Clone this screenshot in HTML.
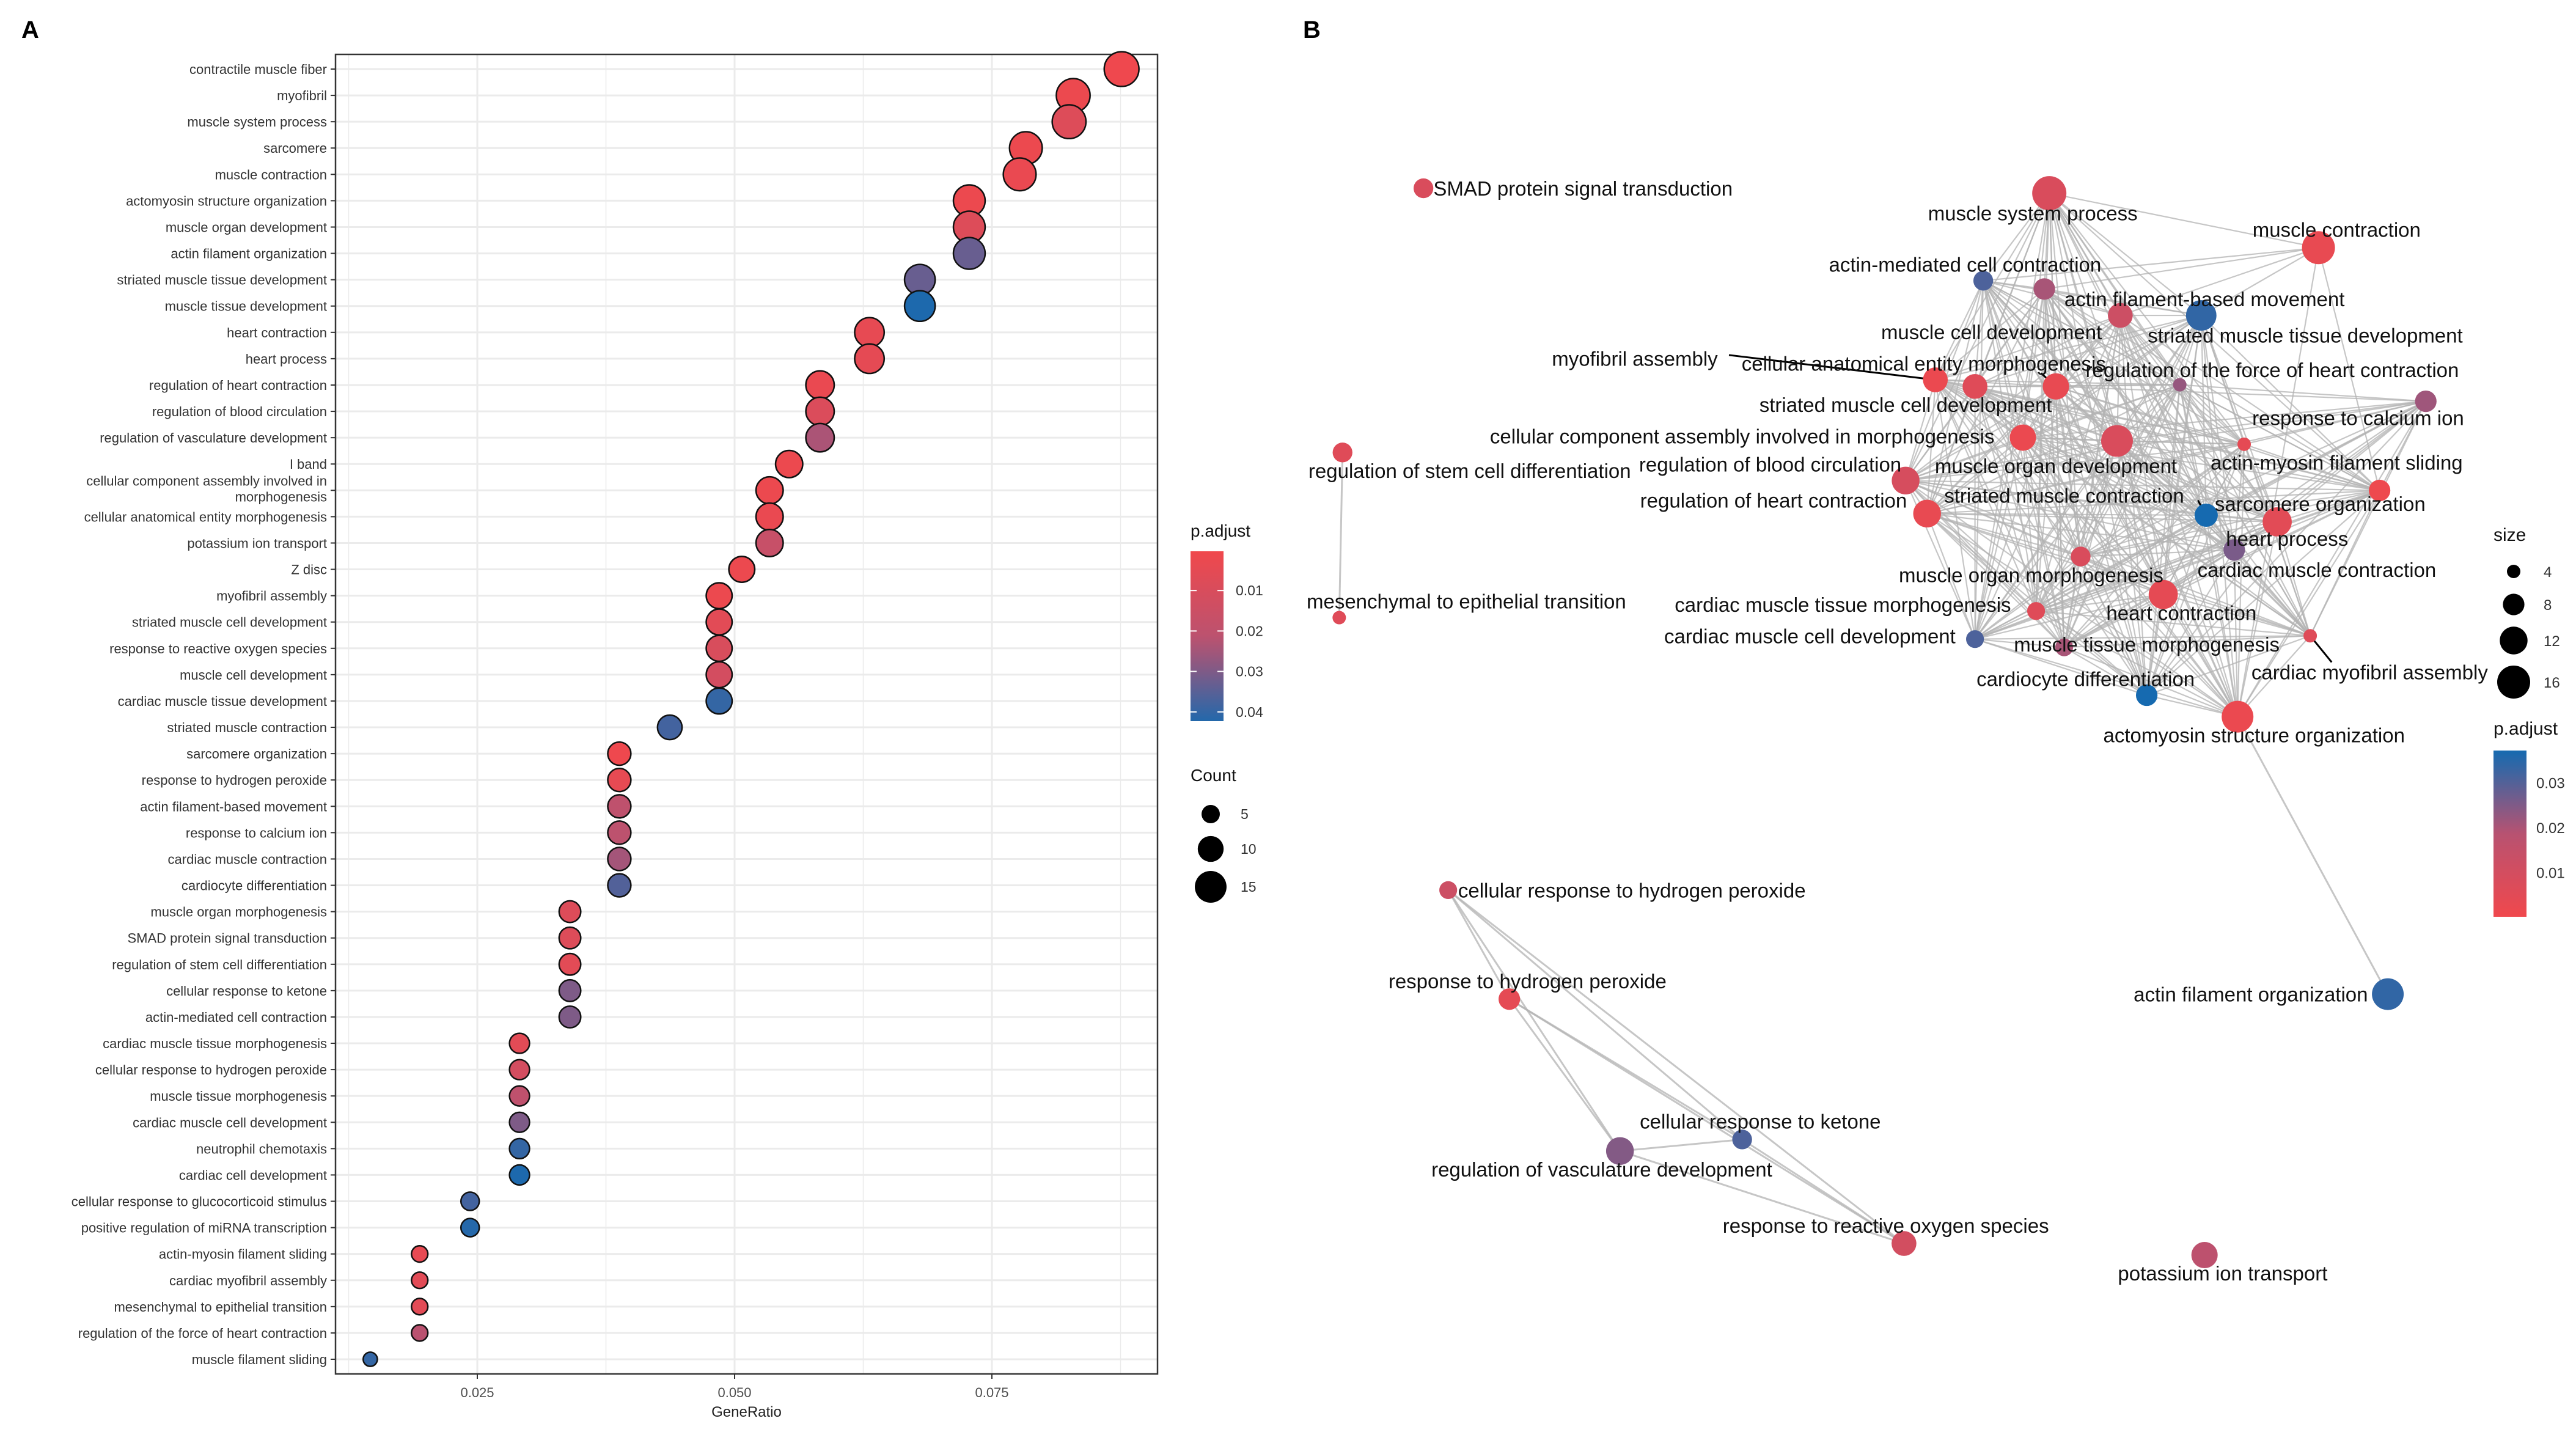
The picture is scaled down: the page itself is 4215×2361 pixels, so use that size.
<!DOCTYPE html>
<html><head><meta charset="utf-8"><style>
html,body{margin:0;padding:0;background:#fff}
svg{display:block;font-family:"Liberation Sans",Arial,sans-serif}
</style></head><body>
<svg id="fig" width="4215" height="2361" viewBox="0 0 4215 2361" xmlns="http://www.w3.org/2000/svg">
<rect x="0" y="0" width="4215" height="2361" fill="#fff"/>
<text x="35" y="62" font-size="40" font-weight="bold">A</text>
<text x="2132" y="62" font-size="40" font-weight="bold">B</text>
<g id="pa"></g>
<g id="pb"></g>
</svg>
<script>
const categories=["contractile muscle fiber","myofibril","muscle system process","sarcomere","muscle contraction","actomyosin structure organization","muscle organ development","actin filament organization","striated muscle tissue development","muscle tissue development","heart contraction","heart process","regulation of heart contraction","regulation of blood circulation","regulation of vasculature development","I band","cellular component assembly involved in morphogenesis","cellular anatomical entity morphogenesis","potassium ion transport","Z disc","myofibril assembly","striated muscle cell development","response to reactive oxygen species","muscle cell development","cardiac muscle tissue development","striated muscle contraction","sarcomere organization","response to hydrogen peroxide","actin filament-based movement","response to calcium ion","cardiac muscle contraction","cardiocyte differentiation","muscle organ morphogenesis","SMAD protein signal transduction","regulation of stem cell differentiation","cellular response to ketone","actin-mediated cell contraction","cardiac muscle tissue morphogenesis","cellular response to hydrogen peroxide","muscle tissue morphogenesis","cardiac muscle cell development","neutrophil chemotaxis","cardiac cell development","cellular response to glucocorticoid stimulus","positive regulation of miRNA transcription","actin-myosin filament sliding","cardiac myofibril assembly","mesenchymal to epithelial transition","regulation of the force of heart contraction","muscle filament sliding"];
const geneRatio=[0.0876,0.0829,0.0825,0.0783,0.0777,0.0728,0.0728,0.0728,0.068,0.068,0.0631,0.0631,0.0583,0.0583,0.0583,0.0553,0.0534,0.0534,0.0534,0.0507,0.0485,0.0485,0.0485,0.0485,0.0485,0.0437,0.0388,0.0388,0.0388,0.0388,0.0388,0.0388,0.034,0.034,0.034,0.034,0.034,0.0291,0.0291,0.0291,0.0291,0.0291,0.0291,0.0243,0.0243,0.0194,0.0194,0.0194,0.0194,0.0146];
const counts=[18,17,17,16,16,15,15,15,14,14,13,13,12,12,12,11,11,11,11,10,10,10,10,10,10,9,8,8,8,8,8,8,7,7,7,7,7,6,6,6,6,6,6,5,5,4,4,4,4,3];
const pAdjust=[0.001,0.002,0.008,0.002,0.003,0.002,0.008,0.033,0.033,0.043,0.004,0.005,0.003,0.009,0.024,0.002,0.002,0.003,0.017,0.002,0.002,0.006,0.010,0.012,0.040,0.038,0.001,0.004,0.020,0.021,0.025,0.036,0.008,0.008,0.006,0.030,0.030,0.006,0.012,0.020,0.030,0.040,0.043,0.038,0.042,0.004,0.006,0.006,0.022,0.040];
const xTicks=[0.025,0.05,0.075];
const xTickLabels=["0.025","0.050","0.075"];

const NS="http://www.w3.org/2000/svg";
function mk(tag,attrs,parent,txt){const e=document.createElementNS(NS,tag);for(const k in attrs)e.setAttribute(k,attrs[k]);if(txt!==undefined)e.textContent=txt;parent.appendChild(e);return e;}
function colS(p,pmax){const t=Math.max(0,Math.min(1,p/pmax));
 const a=[241,72,76],m=[186,82,112],b=[22,106,176];let c;
 if(t<0.5){const u=t/0.5;c=a.map((v,i)=>v+(m[i]-v)*u);}else{const u=(t-0.5)/0.5;c=m.map((v,i)=>v+(b[i]-v)*u);}
 return "rgb("+c.map(Math.round).join(",")+")";}
const col=p=>colS(p,0.044);
const colB=p=>colS(p,0.036);

// Panel A
const pa=document.getElementById('pa');
const L=549,R=1894,T=89,B=2248;
const xs=v=>781+(v-0.025)*(1202-781)/0.025;
const ys=i=>113+i*(2224-113)/(categories.length-1);
const rA=k=>6.7*Math.sqrt(k);
for(let v=0.0125;v<0.091;v+=0.0125){const g=mk('line',{x1:xs(v),x2:xs(v),y1:T,y2:B,stroke:'#ebebeb','stroke-width':Math.abs((v/0.025)-Math.round(v/0.025))<1e-6?3:1.5},pa);}
categories.forEach((c,i)=>{const y=ys(i);
 const g=mk('line',{x1:L,x2:R,y1:y,y2:y,stroke:'#ebebeb','stroke-width':3},pa);
 mk('line',{x1:L-8,x2:L,y1:y,y2:y,stroke:'#333','stroke-width':2},pa);
 if(c==="cellular component assembly involved in morphogenesis"){
  const t=mk('text',{x:L-14,y:y-8,'font-size':22,'text-anchor':'end',fill:'#333'},pa,"cellular component assembly involved in");
  
  const t2=mk('text',{x:L-14,y:y+18,'font-size':22,'text-anchor':'end',fill:'#333'},pa,"morphogenesis");
  
 } else {
  const t=mk('text',{x:L-14,y:y+8,'font-size':22,'text-anchor':'end',fill:'#333'},pa,c);
  
 }});
const fr=mk('rect',{x:L,y:T,width:R-L,height:B-T,fill:'none',stroke:'#333','stroke-width':2.5},pa);

xTicks.forEach((v,i)=>{mk('line',{x1:xs(v),x2:xs(v),y1:B,y2:B+8,stroke:'#333','stroke-width':2},pa);
 const t=mk('text',{x:xs(v),y:B+38,'font-size':22,'text-anchor':'middle',fill:'#4d4d4d'},pa,xTickLabels[i]);
 });
const xt=mk('text',{x:(L+R)/2,y:B+70,'font-size':24,'text-anchor':'middle',fill:'#222'},pa,"GeneRatio");

categories.forEach((c,i)=>{const d=mk('circle',{cx:xs(geneRatio[i]),cy:ys(i),r:rA(counts[i]),fill:col(pAdjust[i]),stroke:'#111','stroke-width':2.5},pa);
 });
(function(){const lg=mk('g',{},pa);
 mk('text',{x:1948,y:878,'font-size':28,fill:'#111'},lg,"p.adjust");
 const gr=mk('linearGradient',{id:'ga',x1:0,y1:0,x2:0,y2:1},mk('defs',{},lg));
 for(let s=0;s<=10;s++){mk('stop',{offset:s/10,'stop-color':col(0.0003+s/10*0.042)},gr);}
 mk('rect',{x:1948,y:902,width:54,height:278,fill:'url(#ga)'},lg);
 [0.01,0.02,0.03,0.04].forEach((v,i)=>{const y=902+(v-0.0003)/0.042*278;
  mk('line',{x1:1948,x2:1958,y1:y,y2:y,stroke:'#fff','stroke-width':2},lg);mk('line',{x1:1992,x2:2002,y1:y,y2:y,stroke:'#fff','stroke-width':2},lg);
  mk('text',{x:2022,y:y+8,'font-size':23,fill:'#333'},lg,["0.01","0.02","0.03","0.04"][i]);});
 const lc=mk('g',{},pa);
 mk('text',{x:1948,y:1278,'font-size':28,fill:'#111'},lc,"Count");
 [[5,1332],[10,1389],[15,1451]].forEach(a=>{mk('circle',{cx:1981,cy:a[1],r:rA(a[0]),fill:'#000'},lc);mk('text',{x:2030,y:a[1]+8,'font-size':23,fill:'#333'},lc,String(a[0]));});
})();

// Panel B network
const S=2.702;
const pb=document.getElementById('pb');
const pOf={};categories.forEach((c,i)=>pOf[c]=[pAdjust[i],counts[i]]);
const nodes=[
["muscle system process",1241,117,1231,129],["muscle contraction",1404,150,1415,139],["actin-mediated cell contraction",1201,170,1190,160],
["actin filament-based movement",1238,175,1335,181],["muscle cell development",1284,191,1206,201],["striated muscle tissue development",1333,191,1396,203],
["myofibril assembly",1172,230,990,217],["striated muscle cell development",1196,234,1154,245],["cellular anatomical entity morphogenesis",1245,234,1165,220],
["regulation of the force of heart contraction",1320,233,1376,224],["response to calcium ion",1469,243,1428,253],["cellular component assembly involved in morphogenesis",1225,265,1055,264],
["muscle organ development",1282,267,1245,282],["actin-myosin filament sliding",1359,269,1415,280],["regulation of blood circulation",1154,291,1072,281],
["sarcomere organization",1441,297,1405,305],["heart process",1379,316,1385,326],["striated muscle contraction",1336,312,1250,300],
["regulation of heart contraction",1167,311,1074,303],["cardiac muscle contraction",1353,333,1403,345],["muscle organ morphogenesis",1260,337,1230,348],
["heart contraction",1310,360,1321,371],["cardiac muscle tissue morphogenesis",1233,370,1116,366],["cardiac muscle cell development",1196,387,1096,385],
["muscle tissue morphogenesis",1250,392,1300,390],["cardiac myofibril assembly",1399,385,1435,407],["cardiocyte differentiation",1300,421,1263,411],
["actomyosin structure organization",1355,434,1365,445]];
const others=[["SMAD protein signal transduction",862,114,966,114],["regulation of stem cell differentiation",813,274,890,285],["mesenchymal to epithelial transition",811,374,888,364],
["actin filament organization",1446,602,1363,602],["cellular response to hydrogen peroxide",877,539,996,539],["response to hydrogen peroxide",914,605,925,594],
["cellular response to ketone",1055,690,1066,679],["regulation of vasculature development",981,697,970,708],["response to reactive oxygen species",1153,753,1142,742],
["potassium ion transport",1335,760,1346,771]];
const all=nodes.concat(others);const pos={};all.forEach(n=>pos[n[0]]=[n[1]*S,n[2]*S]);
const eg=mk('g',{},pb);
function edge(a,b,w){mk('line',{x1:pos[a][0],y1:pos[a][1],x2:pos[b][0],y2:pos[b][1],stroke:'#b3b3b3','stroke-width':w||3,'stroke-opacity':0.75},eg);}
for(let i=0;i<nodes.length;i++)for(let j=i+1;j<nodes.length;j++){if(i===1&&j>4&&j!==5&&j!==15&&j!==27)continue;if(j===10&&i<8)continue;edge(nodes[i][0],nodes[j][0],2.2);}
edge("actin filament organization","actomyosin structure organization");
edge("regulation of stem cell differentiation","mesenchymal to epithelial transition");
const sm=["cellular response to hydrogen peroxide","response to hydrogen peroxide","cellular response to ketone","regulation of vasculature development","response to reactive oxygen species"];
for(let i=0;i<sm.length;i++)for(let j=i+1;j<sm.length;j++)edge(sm[i],sm[j]);
[["myofibril assembly",1047,215],["cellular anatomical entity morphogenesis",1236,226],["striated muscle contraction",1331,303]].forEach(a=>mk('line',{x1:a[1]*S,y1:a[2]*S,x2:pos[a[0]][0],y2:pos[a[0]][1],stroke:'#000','stroke-width':3},pb));
mk('line',{x1:1399*S,y1:385*S,x2:1412*S,y2:401*S,stroke:'#000','stroke-width':3},pb);
const rB=k=>8*Math.sqrt(k)-5;
all.forEach(n=>{const pc=pOf[n[0]];const c=mk('circle',{cx:pos[n[0]][0],cy:pos[n[0]][1],r:rB(pc[1]),fill:colB(pc[0])},pb);
 });
all.forEach(n=>{const left=n[0]==="SMAD protein signal transduction"||n[0]==="cellular response to hydrogen peroxide";
 const t=mk('text',{x:left?(n[1]+6)*S:n[3]*S,y:n[4]*S+12,'font-size':33,'text-anchor':left?'start':'middle',fill:'#111'},pb,n[0]);
 });
(function(){const lg=mk('g',{},pb);
 mk('text',{x:4080,y:885,'font-size':30,fill:'#111'},lg,"size");
 [[4,935],[8,989],[12,1048],[16,1116]].forEach(a=>{mk('circle',{cx:4113,cy:a[1],r:rB(a[0]),fill:'#000'},lg);mk('text',{x:4162,y:a[1]+9,'font-size':24,fill:'#333'},lg,String(a[0]));});
 const lp=mk('g',{},pb);
 mk('text',{x:4080,y:1202,'font-size':30,fill:'#111'},lp,"p.adjust");
 const gr=mk('linearGradient',{id:'gb',x1:0,y1:1,x2:0,y2:0},mk('defs',{},lp));
 for(let s=0;s<=10;s++){mk('stop',{offset:s/10,'stop-color':colB(0.0003+s/10*0.036)},gr);}
 mk('rect',{x:4080,y:1228,width:54,height:272,fill:'url(#gb)'},lp);
 [0.01,0.02,0.03].forEach((v,i)=>{const y=1500-(v-0.0003)/0.037*272;
  mk('text',{x:4150,y:y+8,'font-size':24,fill:'#333'},lp,["0.01","0.02","0.03"][i]);});
})();
</script>
</body></html>
